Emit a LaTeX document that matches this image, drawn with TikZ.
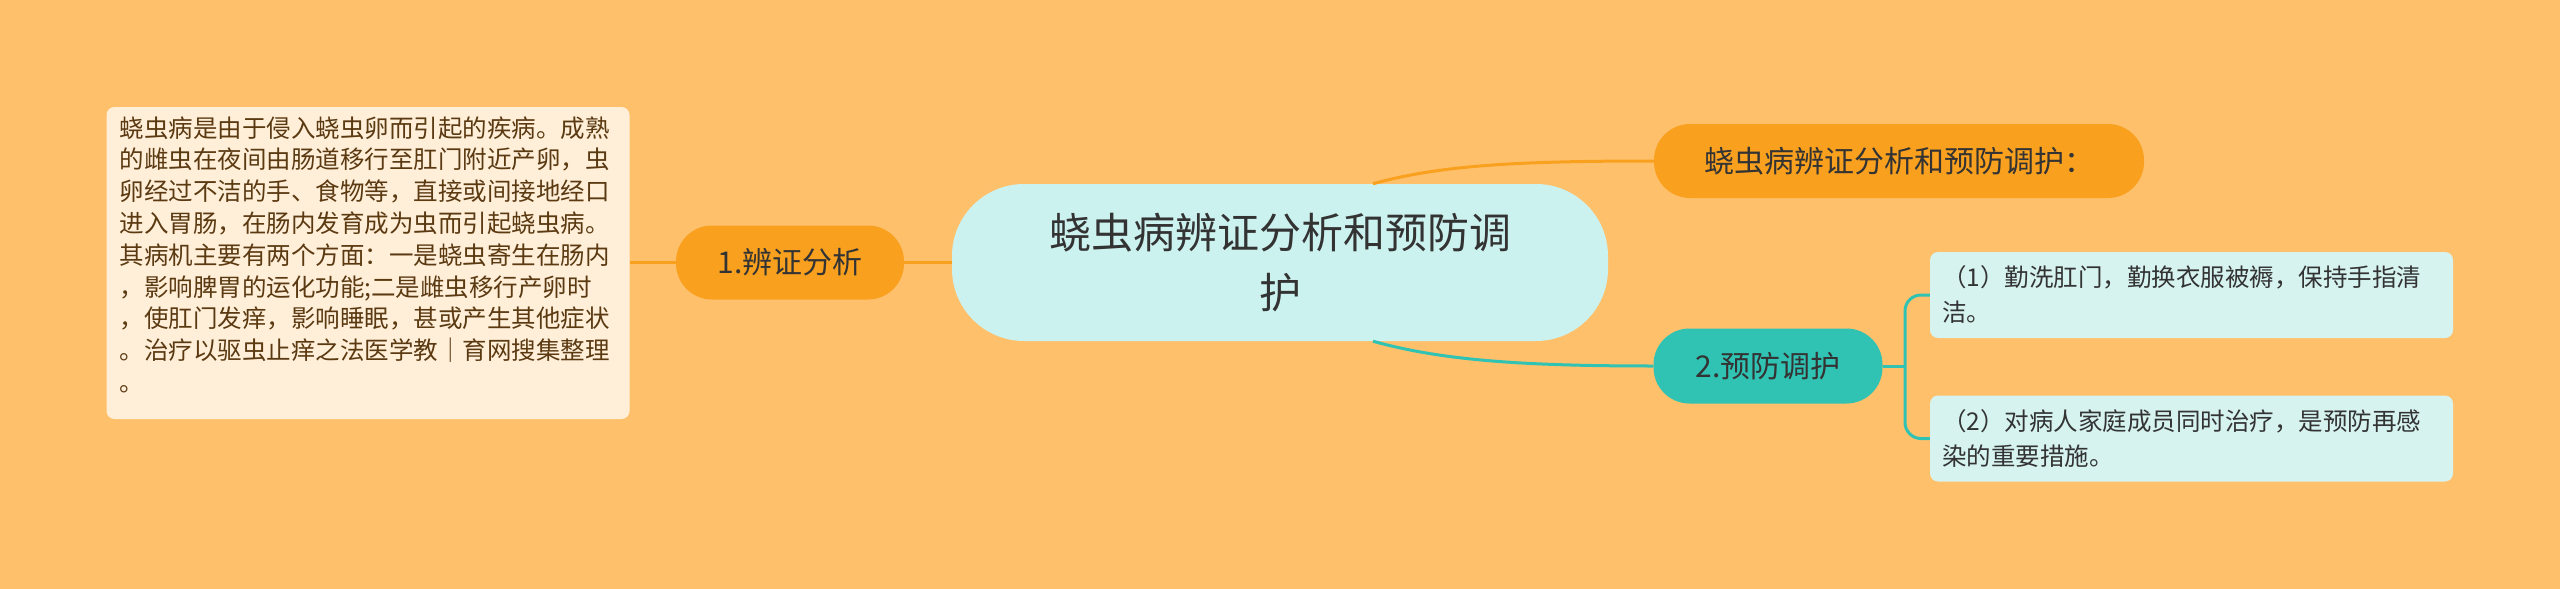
\documentclass[tikz,border=0pt]{standalone}
\usepackage{fontspec}
\newfontfamily\cjk{Noto Sans CJK SC}
\definecolor{bg}{HTML}{FFC06B}
\definecolor{orangeN}{HTML}{F9A11F}
\definecolor{centerFill}{HTML}{CCF2EF}
\definecolor{tealN}{HTML}{30C3B4}
\definecolor{leafLFill}{HTML}{FFEFD9}
\definecolor{leafRFill}{HTML}{D6F3F0}
\definecolor{brownText}{HTML}{5B3A12}
\definecolor{darkText}{HTML}{333333}
\tikzset{
  centerbox/.style={fill=centerFill, rounded corners=72pt, minimum width=656pt, minimum height=157pt,
    align=center, text=darkText, font=\cjk\fontsize{42}{60}\selectfont, inner sep=0pt},
  orangebox/.style={fill=orangeN, rounded corners=36pt, minimum height=74pt,
    text=darkText, font=\cjk\fontsize{30}{36}\selectfont, inner sep=0pt},
  tealbox/.style={fill=tealN, rounded corners=36pt, minimum height=75pt,
    text=darkText, font=\cjk\fontsize{30}{36}\selectfont, inner sep=0pt},
  leafleft/.style={fill=leafLFill, rounded corners=8pt, text=brownText,
    font=\cjk\fontsize{24.5}{31.8}\selectfont, align=left, text width=497pt,
    inner xsep=13pt, inner ysep=0pt, minimum width=522pt, minimum height=312pt},
  leafright/.style={fill=leafRFill, rounded corners=8pt, text=darkText,
    font=\cjk\fontsize{24.5}{35}\selectfont, align=left, text width=499pt,
    inner xsep=12pt, inner ysep=0pt, minimum width=523pt, minimum height=86pt},
  olink/.style={draw=orangeN, line width=3pt},
  tlink/.style={draw=tealN, line width=3pt},
}
\begin{document}
\begin{tikzpicture}[x=1pt,y=-1pt]
\useasboundingbox[fill=bg] (0,0) rectangle (2560,589);

% nodes
\node[centerbox] (c) at (1280,262.5) {蛲虫病辨证分析和预防调\\护};
\node[orangebox, minimum width=228pt] (n1) at (790,262.5) {1.辨证分析};
\node[orangebox, minimum width=490pt] (n3) at (1899,161) {蛲虫病辨证分析和预防调护：};
\node[tealbox, minimum width=229pt] (n2) at (1768,366) {2.预防调护};
\node[leafleft] (L) at (368,263) {蛲虫病是由于侵入蛲虫卵而引起的疾病。成熟\\的雌虫在夜间由肠道移行至肛门附近产卵，虫\\卵经过不洁的手、食物等，直接或间接地经口\\进入胃肠，在肠内发育成为虫而引起蛲虫病。\\其病机主要有两个方面：一是蛲虫寄生在肠内\\，影响脾胃的运化功能;二是雌虫移行产卵时\\，使肛门发痒，影响睡眠，甚或产生其他症状\\。治疗以驱虫止痒之法医学教｜育网搜集整理\\。\rule[-18pt]{0pt}{18pt}};
\node[leafright] (r1) at (2191.5,295) {（1）勤洗肛门，勤换衣服被褥，保持手指清\\洁。};
\node[leafright] (r2) at (2191.5,438.5) {（2）对病人家庭成员同时治疗，是预防再感\\染的重要措施。};

% connectors
\coordinate (ctop) at ([xshift=93pt]c.north);
\coordinate (cbot) at ([xshift=93pt]c.south);
\coordinate (fork) at (1905,366);
\draw[olink] (c.west) -- (n1.east);
\draw[olink] (n1.west) -- (L.east |- n1.west);
\draw[olink] (ctop) .. controls (1440,165) and (1520,161) .. (n3.west);
\draw[tlink] (cbot) .. controls (1440,360) and (1520,366) .. (n2.west);
\draw[tlink] (n2.east) -- (fork);
\draw[tlink, rounded corners=16pt] (fork) |- (r1.west);
\draw[tlink, rounded corners=16pt] (fork) |- (r2.west);
\end{tikzpicture}
\end{document}
